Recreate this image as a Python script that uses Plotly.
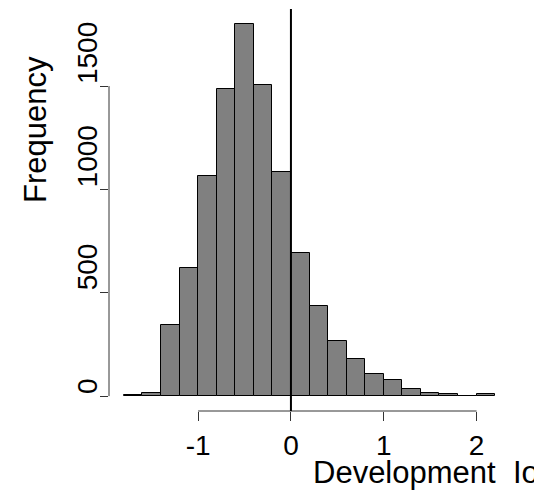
import plotly.graph_objects as go

# Histogram data (bin edges width 0.2 from -1.8 to 2.2)
bin_edges = [-1.8, -1.6, -1.4, -1.2, -1.0, -0.8, -0.6, -0.4, -0.2, 0.0, 0.2,
             0.4, 0.6, 0.8, 1.0, 1.2, 1.4, 1.6, 1.8, 2.0, 2.2]
counts = [4, 16, 343, 622, 1063, 1484, 1801, 1503, 1082, 693,
          435, 265, 182, 106, 76, 35, 16, 11, 3, 8]
x_ticks = [-1, 0, 1, 2]
x_tick_labels = ["-1", "0", "1", "2"]
y_ticks = [0, 500, 1000, 1500]
y_tick_labels = ["0", "500", "1000", "1500"]
ref_line_x = 0
x_title = "Development  Io"
y_title = "Frequency"

centers = [(bin_edges[i] + bin_edges[i + 1]) / 2 for i in range(len(counts))]
widths = [bin_edges[i + 1] - bin_edges[i] for i in range(len(counts))]

FONT = "Liberation Sans, Arial, sans-serif"
OFF = 8  # default page body margin
W, H = 542 - OFF, 496 - OFF
L, R, T, B = 109 - OFF, 32, 9 - OFF, 85
PW, PH = W - L - R, H - T - B


def px(x):
    return (x - OFF - L) / PW


def py(y):
    return (H - B - (y - OFF)) / PH


fig = go.Figure()
fig.add_trace(go.Bar(
    x=centers, y=counts, width=widths,
    marker=dict(color="#808080", line=dict(color="black", width=1)),
    showlegend=False, hoverinfo="x+y",
))

annotations = []
for v, t in zip(y_ticks, y_tick_labels):
    annotations.append(dict(text=t, xref="paper", yref="y", x=px(87), y=v,
                            xanchor="center", yanchor="bottom", textangle=-90,
                            showarrow=False, font=dict(size=28, family=FONT)))
annotations.append(dict(text=x_title, xref="paper", yref="paper", x=px(311), y=py(472),
                        xanchor="left", yanchor="middle", showarrow=False,
                        font=dict(size=31, family=FONT)))
annotations.append(dict(text=y_title, xref="paper", yref="paper", x=px(35), y=py(130),
                        xanchor="center", yanchor="middle", textangle=-90, showarrow=False,
                        font=dict(size=31, family=FONT)))

fig.update_layout(
    width=W, height=H,
    margin=dict(l=L, r=R, t=T, b=B),
    paper_bgcolor="white", plot_bgcolor="white",
    font=dict(family=FONT, size=28, color="black"),
    bargap=0,
    xaxis=dict(range=[-1.96, 2.36], showgrid=False, zeroline=False, showline=False,
               automargin=False,
               tickmode="array", tickvals=x_ticks, ticktext=x_tick_labels,
               ticks="outside", ticklen=9, tickwidth=1, tickcolor="#333",
               tickfont=dict(size=28, family=FONT)),
    yaxis=dict(range=[-72, 1873], showgrid=False, zeroline=False, showline=False,
               automargin=False, showticklabels=False,
               tickmode="array", tickvals=y_ticks,
               ticks="outside", ticklen=8, tickwidth=1, tickcolor="#333"),
    shapes=[
        dict(type="line", xref="x", yref="paper", x0=x_ticks[0], x1=x_ticks[-1], y0=0, y1=0,
             line=dict(color="#333", width=1)),
        dict(type="line", xref="paper", yref="y", x0=0, x1=0, y0=y_ticks[0], y1=y_ticks[-1],
             line=dict(color="#333", width=1)),
        dict(type="line", xref="x", yref="paper", x0=ref_line_x, x1=ref_line_x, y0=0, y1=1,
             line=dict(color="black", width=2)),
    ],
    annotations=annotations,
)

fig.write_html("out.html")
